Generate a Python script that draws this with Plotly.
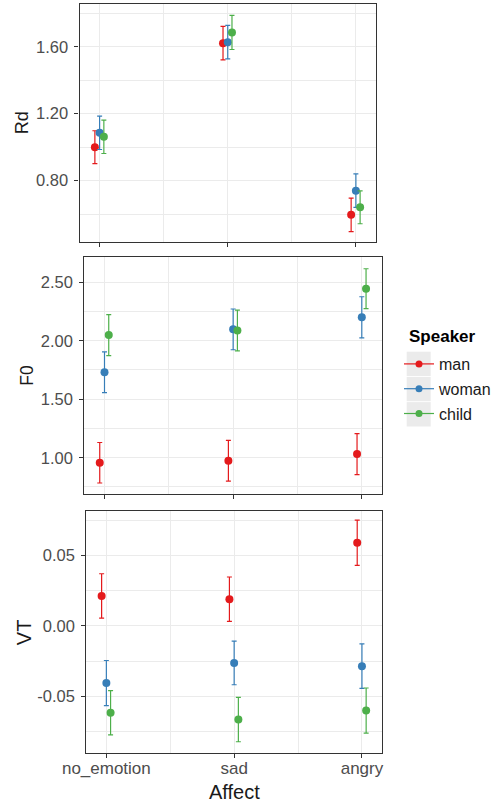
import plotly.graph_objects as go

# ---------------- data ----------------
affects = ["no_emotion", "sad", "angry"]
speakers = ["man", "woman", "child"]
colors = ["#E41A1C", "#377EB8", "#4DAF4A"]
dodge = [-0.037, 0.0, 0.033]

rd_man = [1.000, 1.622, 0.595]
rd_woman = [1.086, 1.628, 0.740]
rd_child = [1.062, 1.686, 0.640]
rd_err_man = [0.098, 0.100, 0.100]
rd_err_woman = [0.100, 0.100, 0.100]
rd_err_child = [0.100, 0.102, 0.098]

f0_man = [0.957, 0.974, 1.031]
f0_woman = [1.730, 2.097, 2.200]
f0_child = [2.048, 2.088, 2.445]
f0_err_man = [0.173, 0.174, 0.175]
f0_err_woman = [0.174, 0.174, 0.176]
f0_err_child = [0.175, 0.174, 0.170]

vt_man = [0.0213, 0.0190, 0.0590]
vt_woman = [-0.0405, -0.0262, -0.0285]
vt_child = [-0.0616, -0.0664, -0.0600]
vt_err_man = [0.0157, 0.0157, 0.0160]
vt_err_woman = [0.0160, 0.0155, 0.0158]
vt_err_child = [0.0157, 0.0157, 0.0160]

panels = [
    ("Rd", [rd_man, rd_woman, rd_child], [rd_err_man, rd_err_woman, rd_err_child]),
    ("F0", [f0_man, f0_woman, f0_child], [f0_err_man, f0_err_woman, f0_err_child]),
    ("VT", [vt_man, vt_woman, vt_child], [vt_err_man, vt_err_woman, vt_err_child]),
]

y_ranges = [[0.431, 1.856], [0.69, 2.713], [-0.0903, 0.0815]]
y_major = [[0.8, 1.2, 1.6], [1.0, 1.5, 2.0, 2.5], [-0.05, 0.0, 0.05]]
y_minor = [[0.6, 1.0, 1.4, 1.8], [0.75, 1.25, 1.75, 2.25], [-0.075, -0.025, 0.025, 0.075]]
y_ticktext = [["0.80", "1.20", "1.60"], ["1.00", "1.50", "2.00", "2.50"], ["-0.05", "0.00", "0.05"]]

W, H = 497, 803
x_domains_px = [(79.5, 376), (84.3, 382), (86.3, 382)]
y_domains_px = [(4, 242.3), (257.3, 494), (511, 753.3)]
title_sizes = [18, 17.5, 20]
title_x_px = [22, 27, 24]

FONT = "Liberation Sans, Arial, sans-serif"
GRID = "#EBEBEB"
BORDER = "#333333"
TICKCOL = "#4D4D4D"

fig = go.Figure()
layout = dict(
    width=W, height=H,
    margin=dict(l=0, r=0, t=0, b=0, autoexpand=False),
    paper_bgcolor="white", plot_bgcolor="white",
    font=dict(family=FONT, color=TICKCOL),
    showlegend=True,
)
annotations = []
shapes = []

for p, (name, series, errs) in enumerate(panels):
    sfx = "" if p == 0 else str(p + 1)
    xa, ya = "x" + sfx, "y" + sfx
    for s in range(3):
        xs = [i + 1 + dodge[s] for i in range(len(affects))]
        fig.add_trace(go.Scatter(
            x=xs, y=series[s], xaxis=xa, yaxis=ya, mode="markers",
            marker=dict(color=colors[s], size=8),
            error_y=dict(type="data", array=errs[s], visible=True,
                         color=colors[s], thickness=1.2, width=2.5),
            showlegend=False, name=speakers[s], hoverinfo="skip",
        ))
    x0, x1 = x_domains_px[p]
    yt, yb = y_domains_px[p]
    layout["xaxis" + sfx] = dict(
        domain=[x0 / W, x1 / W], anchor=ya, range=[0.843, 3.157],
        tickmode="array", tickvals=[1, 2, 3], ticktext=affects,
        showticklabels=(p == 2), ticks="outside", ticklen=4, tickwidth=1,
        tickcolor=BORDER, showgrid=True, gridcolor=GRID, gridwidth=1.1,
        minor=dict(tickvals=[1.5, 2.5], showgrid=True, gridcolor=GRID, gridwidth=0.6, ticks=""),
        showline=True, linecolor=BORDER, linewidth=1.2, mirror=True,
        zeroline=False, tickfont=dict(size=17, color=TICKCOL, family=FONT),
        ticklabelstandoff=-5, automargin=False,
    )
    layout["yaxis" + sfx] = dict(
        domain=[(H - yb) / H, (H - yt) / H], anchor=xa, range=y_ranges[p],
        tickmode="array", tickvals=y_major[p], ticktext=y_ticktext[p],
        ticks="outside", ticklen=4, tickwidth=1, tickcolor=BORDER,
        showgrid=True, gridcolor=GRID, gridwidth=1.1,
        minor=dict(tickvals=y_minor[p], showgrid=True, gridcolor=GRID, gridwidth=0.6, ticks=""),
        showline=True, linecolor=BORDER, linewidth=1.2, mirror=True,
        zeroline=False, tickfont=dict(size=16.5, color=TICKCOL, family=FONT),
        ticklabelstandoff=3, automargin=False,
    )
    annotations.append(dict(
        text=name, textangle=-90, xref="paper", yref="paper",
        x=title_x_px[p] / W, y=(H - (yt + yb) / 2) / H,
        xanchor="center", yanchor="middle", showarrow=False,
        font=dict(size=title_sizes[p], color="#1A1A1A", family=FONT),
    ))

annotations.append(dict(
    text="Affect", xref="paper", yref="paper", x=234 / W, y=(H - 792) / H,
    xanchor="center", yanchor="middle", showarrow=False,
    font=dict(size=20, color="#1A1A1A", family=FONT),
))

# legend title (ggplot style, aligned with keys)
annotations.append(dict(
    text="<b>Speaker</b>", xref="paper", yref="paper", x=406.5 / W, y=(H - 336) / H,
    xanchor="left", yanchor="middle", showarrow=False,
    font=dict(size=17, color="black", family=FONT),
))

# legend key backgrounds
key_rows_px = [(351.7, 376.0), (376.9, 401.2), (402.1, 426.5)]
for (kt, kb) in key_rows_px:
    shapes.append(dict(
        type="rect", xref="paper", yref="paper",
        x0=406.7 / W, x1=430.7 / W, y0=(H - kb) / H, y1=(H - kt) / H,
        fillcolor="#EBEBEB", line=dict(width=0), layer="below",
    ))

# legend entries
for s in range(3):
    fig.add_trace(go.Scatter(
        x=[None], y=[None], mode="lines+markers", name=speakers[s],
        legendgroup=speakers[s],
        line=dict(color=colors[s], width=1.2), marker=dict(color=colors[s], size=7),
        showlegend=True, xaxis="x2", yaxis="y2",
    ))

layout["legend"] = dict(
    x=399 / W, y=(H - 347) / H, xanchor="left", yanchor="top",
    bgcolor="rgba(0,0,0,0)", borderwidth=0,
    font=dict(size=16, color="#1A1A1A", family=FONT),
    itemwidth=30, tracegroupgap=1, traceorder="grouped",
)
layout["annotations"] = annotations
layout["shapes"] = shapes
fig.update_layout(**layout)
fig.write_html(
    "out.html",
    config={"displayModeBar": False},
    post_script="document.body.style.margin='0px';document.body.style.overflow='hidden';",
)
